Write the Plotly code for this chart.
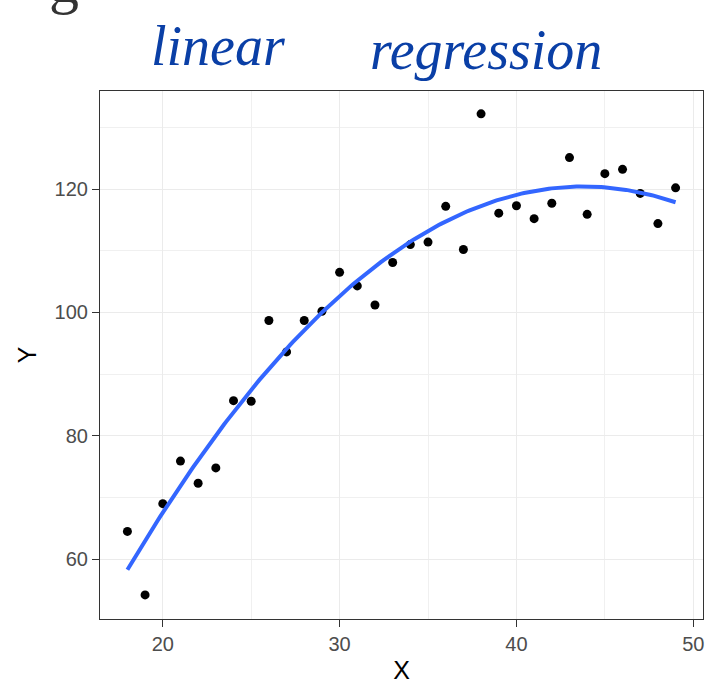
import numpy as np
import plotly.graph_objects as go

# Observations
x_vals = [18, 19, 20, 21, 22, 23, 24, 25, 26, 27, 28, 29, 30, 31, 32, 33,
          34, 35, 36, 37, 38, 39, 40, 41, 42, 43, 44, 45, 46, 47, 48, 49]
y_vals = [64.5, 54.2, 69.0, 75.9, 72.3, 74.8, 85.7, 85.6, 98.7, 93.6, 98.7,
          100.2, 106.5, 104.3, 101.2, 108.1, 111.0, 111.4, 117.2, 110.2, 132.2,
          116.1, 117.3, 115.2, 117.7, 125.1, 115.9, 122.5, 123.2, 119.3, 114.4,
          120.2]

x_ticks = [20, 30, 40, 50]
y_ticks = [60, 80, 100, 120]

# Quadratic least-squares fit (y ~ x + x^2)
coef = np.polyfit(x_vals, y_vals, 2)
x_fit = np.linspace(min(x_vals), max(x_vals), 200)
y_fit = np.polyval(coef, x_fit)

fig = go.Figure()
fig.add_trace(go.Scatter(
    x=x_vals, y=y_vals, mode="markers",
    marker=dict(color="black", size=9),
    showlegend=False, hoverinfo="skip",
))
fig.add_trace(go.Scatter(
    x=x_fit, y=y_fit, mode="lines",
    line=dict(color="#3366FF", width=4),
    showlegend=False, hoverinfo="skip",
))

axis_common = dict(
    showline=True, mirror=True, linecolor="#333333", linewidth=1.2,
    ticks="outside", ticklen=7, tickcolor="#333333", tickwidth=1.2,
    showgrid=True, gridcolor="#EBEBEB", gridwidth=1.3,
    zeroline=False,
    tickfont=dict(family="Liberation Sans, Arial, sans-serif", size=20, color="#4D4D4D"),
)

fig.update_xaxes(
    range=[16.45, 50.55], tickvals=x_ticks,
    minor=dict(dtick=5, tick0=0, showgrid=True, gridcolor="#F0F0F0", gridwidth=0.9, ticks=""),
    title=dict(text="X", font=dict(family="Liberation Sans, Arial, sans-serif", size=25, color="black"), standoff=8),
    **axis_common,
)
fig.update_yaxes(
    range=[50.3, 135.9], tickvals=y_ticks,
    minor=dict(dtick=10, tick0=0, showgrid=True, gridcolor="#F0F0F0", gridwidth=0.9, ticks=""),
    title=dict(text="Y", font=dict(family="Liberation Sans, Arial, sans-serif", size=25, color="black"), standoff=10),
    **axis_common,
)

# Hand-lettered heading, positioned in pixels (converted below)
hand = dict(family="Liberation Serif, serif", size=56, color="#0a3fa6", style="italic")
fig.add_annotation(text="linear", x=218, y=46, showarrow=False, font=hand)
fig.add_annotation(text="regression", x=486, y=50, showarrow=False, font=hand)
fig.add_annotation(text="g", x=64, y=-18, showarrow=False,
                   font=dict(family="Liberation Serif, serif", size=60, color="#333333"))

W, H = 706, 684
L, R, T, B = 100, 3, 91, 65
pw, ph = W - L - R, H - T - B
for ann in fig.layout.annotations:
    px, py = ann.x, ann.y
    ann.update(xref="paper", yref="paper",
               x=(px - L) / pw, y=(H - B - py) / ph,
               xanchor="center", yanchor="middle")

fig.update_layout(
    width=W, height=H,
    margin=dict(l=L, r=R, t=T, b=B),
    plot_bgcolor="white", paper_bgcolor="white",
)

fig.write_html("out.html")
